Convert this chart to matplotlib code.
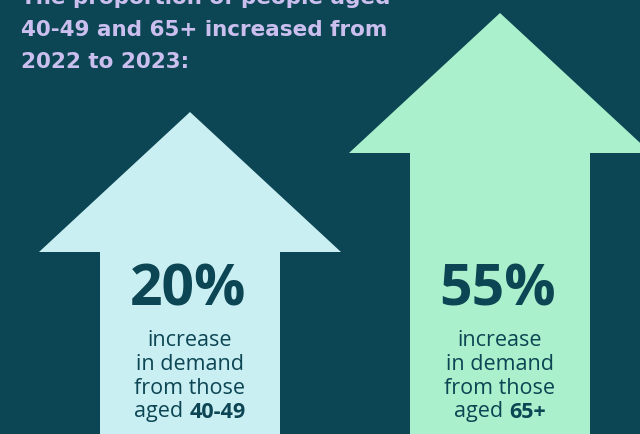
import matplotlib.pyplot as plt
from matplotlib.patches import Polygon

# data
groups = ["40-49", "65+"]
increase_pct = [20, 55]
arrow_heights = [322, 421]  # tip height above bottom edge, px
arrow_colors = ["#c9eff3", "#abf0cc"]
title_lines = ["The proportion of people aged", "40-49 and 65+ increased from", "2022 to 2023:"]
caption_lines = ["increase", "in demand", "from those"]

BG = "#0c4553"
DARK = "#0c4553"
LAVENDER = "#cbbff0"
FONT = "Open Sans"
TITLE_FONT = "DejaVu Sans"

fig = plt.figure(figsize=(6.4, 4.34), dpi=100)
fig.patch.set_facecolor(BG)
ax = fig.add_axes([0, 0, 1, 1])
ax.set_xlim(0, 640)
ax.set_ylim(0, 434)
ax.set_facecolor(BG)
ax.axis("off")

centers = [190, 500]
head_half = 151
shaft_half = 90
head_len = 140

for cx, h, col in zip(centers, arrow_heights, arrow_colors):
    base = h - head_len
    pts = [
        (cx - shaft_half, -5), (cx - shaft_half, base), (cx - head_half, base),
        (cx, h), (cx + head_half, base), (cx + shaft_half, base), (cx + shaft_half, -5),
    ]
    ax.add_patch(Polygon(pts, closed=True, facecolor=col, edgecolor="none"))

renderer = fig.canvas.get_renderer()

for cx, pct, grp in zip(centers, increase_pct, groups):
    ax.text(cx - 2, 434 - 290, f"{pct}%", ha="center", va="center",
            fontsize=41, fontweight="bold", color=DARK, family=FONT)
    for i, line in enumerate(caption_lines):
        ax.text(cx, 434 - (340 + 24 * i), line, ha="center", va="center",
                fontsize=15.5, color=DARK, family=FONT)
    # mixed-weight last line
    y = 434 - 412
    t1 = ax.text(0, y, "aged ", ha="left", va="center", fontsize=15.5,
                 color=DARK, family=FONT)
    t2 = ax.text(0, y, grp, ha="left", va="center", fontsize=15.5,
                 fontweight="bold", color=DARK, family=FONT)
    w1 = t1.get_window_extent(renderer).width
    w2 = t2.get_window_extent(renderer).width
    x0 = cx - (w1 + w2) / 2
    t1.set_x(x0)
    t2.set_x(x0 + w1)

for i, line in enumerate(title_lines):
    ax.text(21, 434 - (-2 + 32 * i), line, ha="left", va="center",
            fontsize=15.5, fontweight="bold", color=LAVENDER, family=TITLE_FONT)

fig.savefig("out.png", dpi=100, facecolor=BG)
